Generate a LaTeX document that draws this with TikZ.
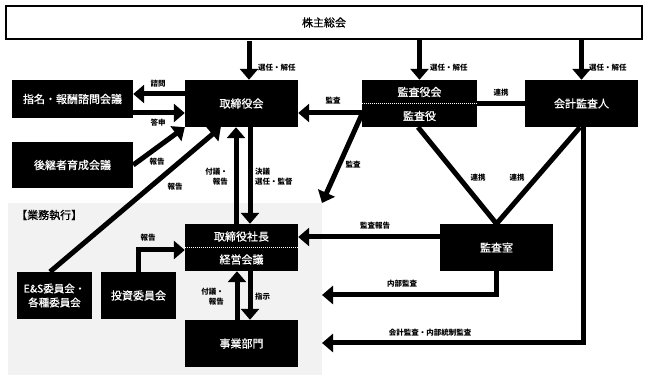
\documentclass[tikz,border=0pt]{standalone}
\usepackage{fontspec}
\setmainfont{Noto Sans CJK JP}
\newfontfamily\boxfont[FakeBold=0.8]{Noto Sans CJK JP}
\usetikzlibrary{arrows.meta,calc}
\definecolor{bggray}{HTML}{F2F2F2}
\begin{document}
\begin{tikzpicture}[x=1pt,y=-1pt,
  box/.style={fill=black,text=white,inner sep=0pt,align=center,font=\boxfont\fontsize{11}{14}\selectfont},
  boxtxt/.style={text=white,inner sep=0pt,font=\boxfont\fontsize{11}{14}\selectfont},
  lbl/.style={inner sep=0pt,font=\fontsize{7.5}{10}\selectfont\bfseries},
  arr/.style={line width=5pt,-{Triangle[length=11pt,width=18pt]}},
  ln/.style={line width=5pt},
  dotline/.style={white,line width=0.9pt,dash pattern=on 1pt off 1pt}]
\useasboundingbox (0,0) rectangle (648,379);
% background of business execution
\node[fill=bggray,minimum width=314pt,minimum height=172pt,inner sep=0pt,outer sep=0pt] (gyomu) at (165,289) {};
\node[anchor=west,inner sep=0pt,font=\boxfont\fontsize{11}{14}\selectfont] (gyomulbl) at (16,215) {【業務執行】};
% boxes
\node[draw=black,line width=2pt,fill=white,minimum width=636pt,minimum height=33pt,inner sep=0pt,font=\boxfont\fontsize{11}{14}\selectfont] (kabu) at (324,22.5) {株主総会};
\node[box,minimum width=121pt,minimum height=38pt] (shimei) at (72.5,99) {指名・報酬諮問会議};
\node[box,minimum width=113pt,minimum height=47pt] (tori) at (241.5,103.5) {取締役会};
\node[box,minimum width=115pt,minimum height=47pt] (kansa) at (419.5,103.5) {};
\node[boxtxt] (kansaA) at (419.5,92) {監査役会};
\node[boxtxt] (kansaB) at (419.5,116) {監査役};
\draw[dotline] (kansa.west) -- (kansa.east);
\node[box,minimum width=113pt,minimum height=47pt] (kaikei) at (581.5,103.5) {会計監査人};
\node[box,minimum width=121pt,minimum height=46pt] (koukei) at (72.5,165) {後継者育成会議};
\node[box,minimum width=113pt,minimum height=47pt] (shacho) at (241.5,247.5) {};
\node[boxtxt] (shachoA) at (241.5,236.5) {取締役社長};
\node[boxtxt] (shachoB) at (241.5,259.5) {経営会議};
\draw[dotline] (shacho.west) -- (shacho.east);
\node[box,minimum width=75pt,minimum height=47pt,font=\boxfont\fontsize{10.5}{14}\selectfont] (es) at (54.5,295.5) {E\&S委員会・\\各種委員会};
\node[box,minimum width=75pt,minimum height=47pt] (toshi) at (138.5,295.5) {投資委員会};
\node[box,minimum width=113pt,minimum height=47pt] (jigyo) at (241.5,343.5) {事業部門};
\node[box,minimum width=113pt,minimum height=47pt] (kansashitsu) at (496.5,247.5) {監査室};
% shareholders arrows
\draw[arr] ($(tori.north)+(7.5,-39)$) -- ($(tori.north)+(7.5,0)$);
\draw[arr] (kansa.north |- kabu.south) -- (kansa.north);
\draw[arr] (kaikei.north |- kabu.south) -- (kaikei.north);
\node[lbl,anchor=west] (l1) at (258,68) {選任・解任};
\node[lbl,anchor=west] (l2) at (430,68) {選任・解任};
\node[lbl,anchor=west] (l3) at (589,68) {選任・解任};
% nomination committee
\draw[arr] ($(tori.west)+(0,-9.5)$) -- ($(shimei.east)+(0,-5)$);
\draw[arr] ($(shimei.east)+(0,14)$) -- ($(tori.west)+(0,9.5)$);
\node[lbl] (l4) at (158,84) {諮問};
\node[lbl] (l5) at (158,123) {答申};
% succession
\draw[arr] (koukei.east) -- (tori.south west);
\node[lbl] (l6) at (157,162) {報告};
% E&S
\draw[arr] ($(es.north)+(-4.5,0)$) -- ($(tori.south west)+(36,0)$);
\node[lbl] (l7) at (175,187) {報告};
% board <-> president
\draw[arr] ($(shacho.north)+(-5.5,0)$) -- ($(tori.south)+(-5.5,0)$);
\draw[arr] ($(tori.south)+(8.5,0)$) -- ($(shacho.north)+(8.5,0)$);
\node[lbl,anchor=east,align=right] (l8) at (228,177) {付議・\\報告};
\node[lbl,anchor=west,align=left] (l9) at (255,177) {決議\\選任・監督};
% audit
\draw[arr] ($(kansa.west)+(0,9.5)$) -- ($(tori.east)+(0,9.5)$);
\node[lbl] (l10) at (333,101) {監査};
\draw[arr] ($(kansa.west)+(0,11)$) -- (gyomu.north east);
\node[lbl] (l11) at (353,165) {監査};
\draw[ln] (kansa.east) -- (kaikei.west);
\node[lbl] (l12) at (501,93) {連携};
\draw[ln,line join=miter] ($(kansa.south)+(-1.5,0)$) -- (kansashitsu.north) -- ($(kaikei.south)+(-1.5,0)$);
\node[lbl] (l13) at (478,178) {連携};
\node[lbl] (l14) at (517,178) {連携};
\draw[arr] ($(kaikei.south)+(1.5,0)$) |- ($(gyomu.east)+(0,54)$);
\node[lbl] (l15) at (430,333) {会計監査・内部統制監査};
\draw[arr] ($(kansashitsu.west)+(0,-10.5)$) -- ($(shacho.east)+(0,-10.5)$);
\node[lbl] (l16) at (375,226) {監査報告};
\draw[arr] (kansashitsu.south) |- ($(gyomu.east)+(0,6)$);
\node[lbl] (l17) at (402,284) {内部監査};
% investment committee
\draw[arr] ($(toshi.north)+(-0.5,0)$) |- ($(shacho.west)+(0,2.5)$);
\node[lbl] (l18) at (148,238) {報告};
% president <-> business
\draw[arr] ($(jigyo.north)+(-4.5,0)$) -- ($(shacho.south)+(-4.5,0)$);
\draw[arr] ($(shacho.south)+(8.5,0)$) -- ($(jigyo.north)+(8.5,0)$);
\node[lbl,anchor=east,align=right] (l19) at (224,297) {付議・\\報告};
\node[lbl,anchor=west] (l20) at (255,297) {指示};
\end{tikzpicture}
\end{document}
